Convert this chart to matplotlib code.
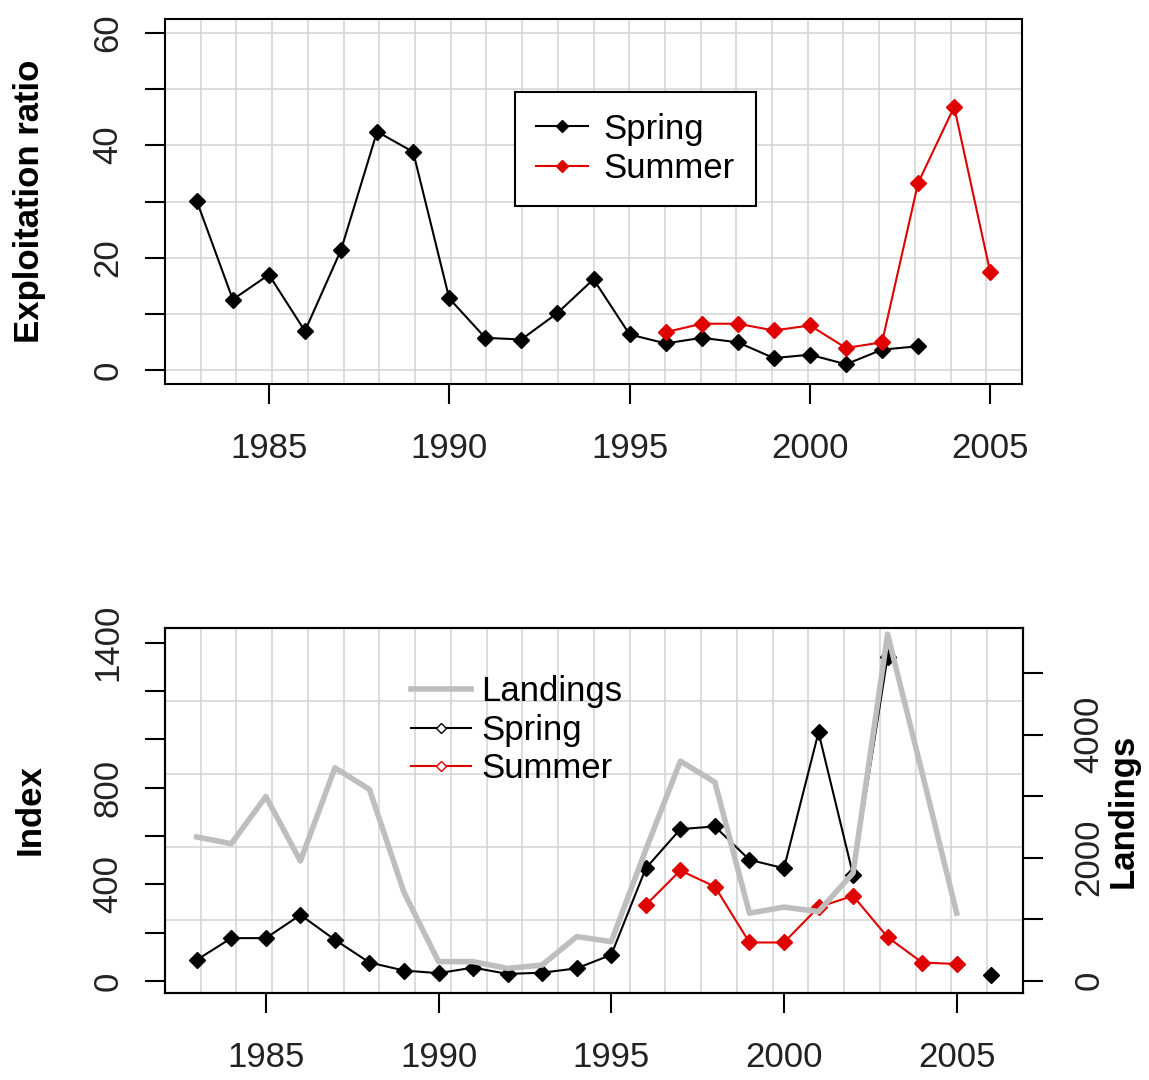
# exploitation ratio (top) and survey index + landings (bottom)
import numpy as np
import matplotlib.pyplot as plt
from matplotlib.lines import Line2D

plt.rcParams['font.family'] = ['Liberation Sans', 'DejaVu Sans']

# ---- data ----
spring_years = list(range(1983, 2004))
spring_ratio = [30.1, 12.6, 17.0, 7.0, 21.4, 42.4, 38.8, 12.8, 5.8, 5.5, 10.2,
                16.2, 6.4, 4.8, 5.8, 5.0, 2.2, 2.8, 1.1, 3.7, 4.3]
summer_years = list(range(1996, 2006))
summer_ratio = [6.8, 8.3, 8.3, 7.1, 8.0, 4.0, 5.0, 33.3, 46.8, 17.4]

index_years = list(range(1983, 2007))
spring_index = [87, 177, 177, 273, 170, 76, 43, 32, 55, 29, 34, 52, 108, 466,
                628, 639, 501, 466, 1028, 439, 1342, np.nan, np.nan, 25]
summer_index = [314, 457, 390, 159, 159, 305, 352, 181, 76, 70]

landing_years = list(range(1983, 2006))
landings = [2337, 2228, 2995, 1946, 3462, 3109, 1435, 310, 310, 200, 255, 717,
            636, 2130, 3570, 3228, 1098, 1196, 1125, 1750, 5636, 3380, 1098]

xticks = [1985, 1990, 1995, 2000, 2005]

W, H = 1149, 1080
fig = plt.figure(figsize=(W / 100, H / 100), dpi=100)
fig.patch.set_facecolor('white')

FS = 25
GRID = '#D3D3D3'
MS = 8


def style(ax):
    for s in ax.spines.values():
        s.set_linewidth(1.5)
    ax.tick_params(direction='out', length=14.4, width=1.5, labelsize=FS,
                   color='black', labelcolor='#222222')
    ax.tick_params(axis='x', pad=20)
    ax.tick_params(axis='y', pad=15, labelrotation=90)
    for lab in ax.get_yticklabels():
        lab.set_va('center')


def vgrid(ax):
    x0, x1 = ax.get_xlim()
    for x in np.linspace(x0, x1, 25)[1:-1]:
        ax.axvline(x, color=GRID, lw=1.1, zorder=0)


# ---------------- top panel ----------------
ax1 = fig.add_axes([165 / W, 1 - 384 / H, 857 / W, 365 / H])
ax1.set_xlim(1982.12, 2005.88)
ax1.set_ylim(-2.4, 62.4)
vgrid(ax1)
for y in range(0, 61, 10):
    ax1.axhline(y, color=GRID, lw=1.1, zorder=0)

ax1.plot(spring_years, spring_ratio, color='black', lw=1.5, marker='D', ms=MS,
         zorder=3, label='Spring')
ax1.plot(summer_years, summer_ratio, color='#E00000', lw=1.5, marker='D', ms=MS,
         zorder=3, label='Summer')

ax1.set_xticks(xticks)
ax1.set_yticks(range(0, 61, 10))
ax1.set_yticklabels(['0', '', '20', '', '40', '', '60'])
style(ax1)

leg = ax1.legend(loc='center', bbox_to_anchor=(0.549, 0.644), fontsize=FS,
                 frameon=True, fancybox=False, framealpha=1, edgecolor='black',
                 handlelength=1.5, handletextpad=0.45, labelspacing=0.19,
                 borderpad=0.6, markerscale=0.75)
leg.get_frame().set_linewidth(1.5)

fig.text(30 / W, 1 - 201 / H, 'Exploitation ratio', rotation=90, ha='center',
         va='center', fontsize=FS, fontweight='bold')

# ---------------- bottom panel ----------------
ax2 = fig.add_axes([165 / W, 1 - 993 / H, 858 / W, 365 / H])
ax2.set_xlim(1982.08, 2006.92)
ax2.set_ylim(-50, 1460)
vgrid(ax2)
y0, y1 = ax2.get_ylim()
for y in np.linspace(y0, y1, 6)[1:-1]:
    ax2.axhline(y, color=GRID, lw=1.1, zorder=0)

ax2.plot(index_years, spring_index, color='black', lw=1.5, marker='D', ms=MS,
         zorder=3)
ax2.plot(summer_years, summer_index, color='#E00000', lw=1.5, marker='D', ms=MS,
         zorder=3)
ax2.set_xticks(xticks)
ax2.set_yticks(range(0, 1401, 200))
ax2.set_yticklabels(['0', '', '400', '', '800', '', '', '1400'])
style(ax2)

ax3 = ax2.twinx()
ax3.set_ylim(-200, 5735)
ax3.plot(landing_years, landings, color='#BEBEBE', lw=4)
ax3.set_yticks(range(0, 5001, 1000))
ax3.set_yticklabels(['0', '', '2000', '', '4000', ''])
for s in ax3.spines.values():
    s.set_linewidth(1.5)
ax3.tick_params(direction='out', length=14.4, width=1.5, labelsize=FS,
                labelcolor='#222222', pad=21, labelrotation=90)
for lab in ax3.get_yticklabels():
    lab.set_va('center')

handles = [
    Line2D([], [], color='#BEBEBE', lw=4),
    Line2D([], [], color='black', lw=1.5, marker='D', ms=5, mfc='white'),
    Line2D([], [], color='#E00000', lw=1.5, marker='D', ms=5, mfc='white'),
]
ax3.legend(handles, ['Landings', 'Spring', 'Summer'], loc='center',
           bbox_to_anchor=(0.41, 0.72), fontsize=FS, frameon=False,
           handlelength=1.7, handletextpad=0.3, labelspacing=0.16)

fig.text(30 / W, 1 - 810 / H, 'Index', rotation=90, ha='center', va='center',
         fontsize=FS, fontweight='bold')
fig.text(1123 / W, 1 - 811 / H, 'Landings', rotation=90, ha='center',
         va='center', fontsize=FS, fontweight='bold')

fig.savefig('out.png', dpi=100)
